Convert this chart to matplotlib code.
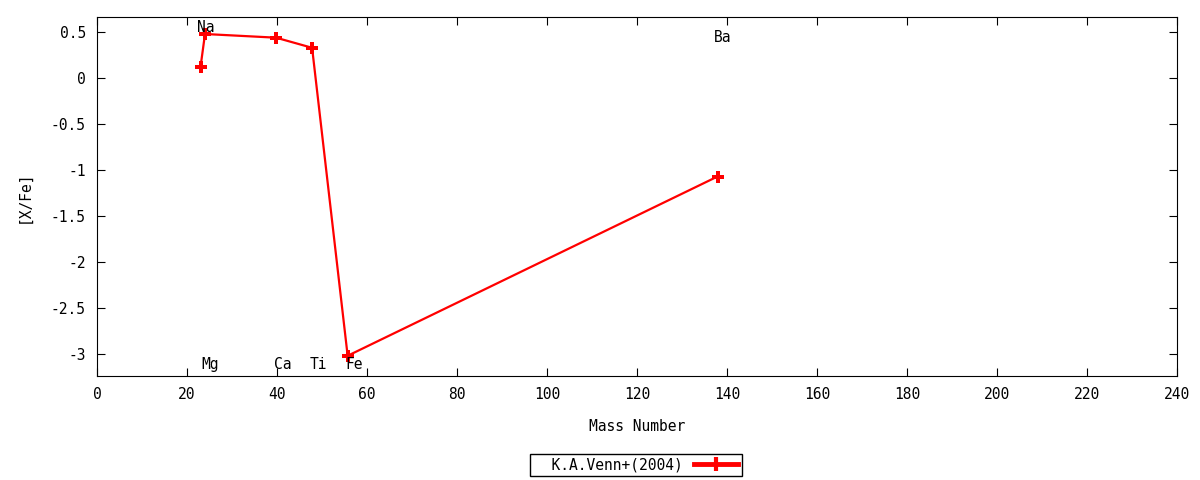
import matplotlib
matplotlib.use('Agg')
import matplotlib.pyplot as plt
from matplotlib.lines import Line2D

plt.rcParams['font.family'] = ['DejaVu Sans Mono']
plt.rcParams['axes.unicode_minus'] = False

# Venn et al. (2004) abundances
mass = [23, 24, 39.8, 47.8, 55.7, 137.9]
xfe = [0.12, 0.48, 0.44, 0.33, -3.02, -1.07]

labels = ['Na', 'Mg', 'Ca', 'Ti', 'Fe', 'Ba']
label_x = [22.2, 23.3, 39.3, 47.3, 55.3, 137.1]
label_y = [0.55, -3.11, -3.11, -3.11, -3.11, 0.44]

legend_label = 'K.A.Venn+(2004)'

fig = plt.figure(figsize=(12, 4.8), dpi=100)
ax = fig.add_axes([97/1200, 1 - 376/480, (1177-97)/1200, (376-17)/480])

ax.plot(mass, xfe, color='red', lw=1.6, marker='P', ms=8, mew=0, label=legend_label)

for lab, lx, ly in zip(labels, label_x, label_y):
    ax.text(lx, ly, lab, ha='left', va='center', fontsize=10.5)

ax.set_xlim(0, 240)
ax.set_ylim(-3.24, 0.665)
ax.set_xticks(range(0, 241, 20))
ax.set_yticks([0.5, 0, -0.5, -1, -1.5, -2, -2.5, -3])
ax.set_yticklabels(['0.5', '0', '-0.5', '-1', '-1.5', '-2', '-2.5', '-3'])
ax.tick_params(direction='in', top=True, right=True, length=6, labelsize=10.5, pad=8)
ax.set_xlabel('Mass Number', fontsize=10.5, labelpad=12)
ax.set_ylabel('[X/Fe]', fontsize=10.5, labelpad=14)

# gnuplot style key: text first, then sample line with error-bar ends
handle = Line2D([], [], color='red', lw=3.5, marker='|', ms=10, mew=3, markevery=[0, 1, 2])
handle.set_data([0, 0.5, 1], [0, 0, 0])
leg = fig.legend([handle], ['  ' + legend_label], loc='center', bbox_to_anchor=(636/1200, 1 - 465/480),
                 markerfirst=False, fancybox=False, edgecolor='black', framealpha=1,
                 fontsize=10.5, handlelength=3, borderpad=0.25, borderaxespad=0)
leg.get_frame().set_linewidth(1)

fig.savefig('out.png', dpi=100)
